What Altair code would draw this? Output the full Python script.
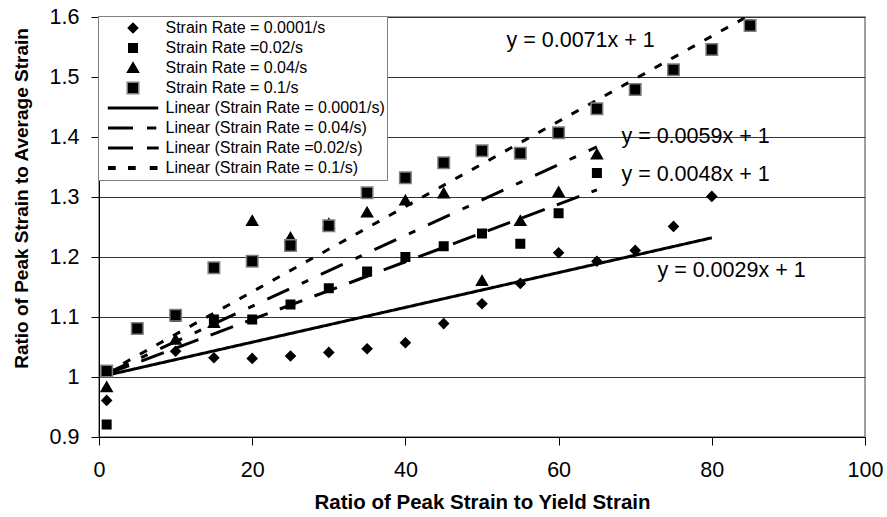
import altair as alt
import pandas as pd

# ---- measured ratios for each strain rate ----
rate_0001_x = [1, 10, 15, 20, 25, 30, 35, 40, 45, 50, 55, 60, 65, 70, 75, 80]
rate_0001_y = [0.961, 1.043, 1.032, 1.031, 1.035, 1.041, 1.047, 1.057, 1.089,
               1.122, 1.156, 1.207, 1.193, 1.211, 1.251, 1.301]

rate_002_x = [1, 10, 15, 20, 25, 30, 35, 40, 45, 50, 55, 60, 65]
rate_002_y = [0.921, 1.100, 1.096, 1.096, 1.121, 1.148, 1.176, 1.200, 1.218,
              1.239, 1.222, 1.273, 1.340]

rate_004_x = [1, 10, 15, 20, 25, 30, 35, 40, 45, 50, 55, 60, 65]
rate_004_y = [0.983, 1.062, 1.090, 1.260, 1.232, 1.255, 1.274, 1.294, 1.306,
              1.160, 1.260, 1.308, 1.371]

rate_01_x = [1, 5, 10, 15, 20, 25, 30, 35, 40, 45, 50, 55, 60, 65, 70, 75, 80, 85]
rate_01_y = [1.010, 1.081, 1.103, 1.182, 1.193, 1.219, 1.252, 1.307, 1.332,
             1.357, 1.377, 1.373, 1.407, 1.447, 1.479, 1.512, 1.546, 1.586]

# ---- linear trendlines (intercept fixed at 1) ----
trend_names = ["Linear (Strain Rate = 0.0001/s)", "Linear (Strain Rate = 0.04/s)",
               "Linear (Strain Rate =0.02/s)", "Linear (Strain Rate = 0.1/s)"]
trend_slopes = [0.0029, 0.0059, 0.0048, 0.0071]
trend_intercept = 1
trend_x_start = [1, 1, 1, 1]
trend_x_end = [80, 65, 65, 85]

# equation labels and their anchor points (data units)
eq_labels = ["y = 0.0071x + 1", "y = 0.0059x + 1", "y = 0.0048x + 1", "y = 0.0029x + 1"]
eq_anchor_x = [53.2, 68.2, 68.2, 72.9]
eq_anchor_y = [1.5595, 1.3995, 1.336, 1.176]

marker_names = ["Strain Rate = 0.0001/s", "Strain Rate =0.02/s",
                "Strain Rate = 0.04/s", "Strain Rate = 0.1/s"]
legend_names = marker_names + trend_names

# ---- tables ----
series_xy = {
    "Strain Rate = 0.04/s": (rate_004_x, rate_004_y),
    "Strain Rate = 0.0001/s": (rate_0001_x, rate_0001_y),
    "Strain Rate =0.02/s": (rate_002_x, rate_002_y),
    "Strain Rate = 0.1/s": (rate_01_x, rate_01_y),
}
rows = []
for name, (xs, ys) in series_xy.items():
    for xv, yv in zip(xs, ys):
        rows.append({"series": name, "x": xv, "y": yv})
pt_df = pd.DataFrame(rows)

trend_rows = []
for name, m, x0, x1 in zip(trend_names, trend_slopes, trend_x_start, trend_x_end):
    for xv in (x0, x1):
        trend_rows.append({"series": name, "x": xv, "y": m * xv + trend_intercept})
trend_df = pd.DataFrame(trend_rows)

eq_df = pd.DataFrame({"label": eq_labels, "x": eq_anchor_x, "y": eq_anchor_y})

# ---- symbol shapes (unit box -1..1, drawn at size 2500 -> 25 px per unit) ----
diamond = "M0,-0.19L0.19,0L0,0.19L-0.19,0Z"
small_square = "M-0.17,-0.17H0.17V0.17H-0.17Z"
triangle = "M0,-0.21L0.22,0.17H-0.22Z"
big_square = "M-0.23,-0.23H0.23V0.23H-0.23Z"
solid_line = "M-0.98,-0.03H0.98V0.03H-0.98Z"
long_dash_dot = "M-0.97,-0.03H-0.03V0.03H-0.97Z M0.59,-0.03H0.9V0.03H0.59Z"
long_dash = "M-0.97,-0.03H-0.03V0.03H-0.97Z M0.59,-0.03H1.0V0.03H0.59Z"
short_dash = ("M-0.97,-0.05H-0.72V0.05H-0.97Z M-0.17,-0.05H0.08V0.05H-0.17Z "
              "M0.7,-0.05H0.95V0.05H0.7Z")

shape_range = [diamond, small_square, triangle, big_square,
               solid_line, long_dash_dot, long_dash, short_dash]
fill_range = ["black"] * 8
stroke_range = ["black", "black", "black", "#7f7f7f", "black", "black", "black", "black"]
dash_range = [[1, 0], [24, 14, 7, 14], [24, 13], [8, 11]]

FONT = "Liberation Sans"

x_enc = alt.X(
    "x:Q",
    title="Ratio of Peak Strain to Yield Strain",
    scale=alt.Scale(domain=[0, 100], nice=False, zero=False),
    axis=alt.Axis(
        values=[0, 20, 40, 60, 80, 100], grid=False, tickSize=8, labelPadding=14,
        labelFontSize=21.5, labelFlush=False, titleFontSize=20.5, titleFontWeight="bold",
        titleX=383, titleY=71, titleAlign="center", titleBaseline="alphabetic",
    ),
)
y_enc = alt.Y(
    "y:Q",
    title="Ratio of Peak Strain to Average Strain",
    scale=alt.Scale(domain=[0.9, 1.6], nice=False, zero=False),
    axis=alt.Axis(
        values=[0.9, 1.0, 1.1, 1.2, 1.3, 1.4, 1.5, 1.6], format=".1~f", grid=True,
        tickSize=8, labelPadding=12, labelFontSize=21.5, titleFontSize=19,
        titleFontWeight="bold", titleAngle=270, titleX=-72, titleY=181,
        titleAlign="center", titleBaseline="alphabetic",
    ),
)

lines = alt.Chart(trend_df).mark_line(color="black", strokeWidth=3, clip=True).encode(
    x=x_enc,
    y=y_enc,
    strokeDash=alt.StrokeDash("series:N", scale=alt.Scale(domain=trend_names, range=dash_range),
                              legend=None),
)

points = alt.Chart(pt_df).mark_point(filled=True, opacity=1, size=2500, strokeWidth=1.5).encode(
    x=x_enc,
    y=y_enc,
    shape=alt.Shape("series:N", title=None,
                    scale=alt.Scale(domain=legend_names, range=shape_range)),
    fill=alt.Fill("series:N", title=None,
                  scale=alt.Scale(domain=legend_names, range=fill_range)),
    stroke=alt.Stroke("series:N", title=None,
                      scale=alt.Scale(domain=legend_names, range=stroke_range)),
)

labels = alt.Chart(eq_df).mark_text(
    align="left", baseline="middle", font=FONT, fontSize=21.5, color="black"
).encode(x=x_enc, y=y_enc, text="label:N")

chart = (
    alt.layer(lines, points, labels)
    .properties(
        width=766,
        height=420,
        autosize=alt.AutoSizeParams(type="none"),
        padding={"left": 99, "top": 17, "right": 22, "bottom": 80},
        background="white",
    )
    .configure_view(stroke="#808080", strokeWidth=1.5)
    .configure_axis(
        domainColor="black", domainWidth=1, tickColor="black", tickWidth=1,
        labelColor="black", labelFont=FONT, titleFont=FONT, titleColor="black",
        gridColor="#333333", gridWidth=1,
    )
    .configure_legend(
        orient="none", legendX=-1, legendY=-1, padding=2, fillColor="white",
        strokeColor="#808080", clipHeight=20, rowPadding=0, symbolSize=2500,
        symbolStrokeWidth=1.5, symbolOffset=7, labelOffset=6.5, labelFont=FONT,
        labelFontSize=16, labelColor="black", labelLimit=400,
    )
)

chart.save("out.html", embed_options={"renderer": "svg", "actions": False})
